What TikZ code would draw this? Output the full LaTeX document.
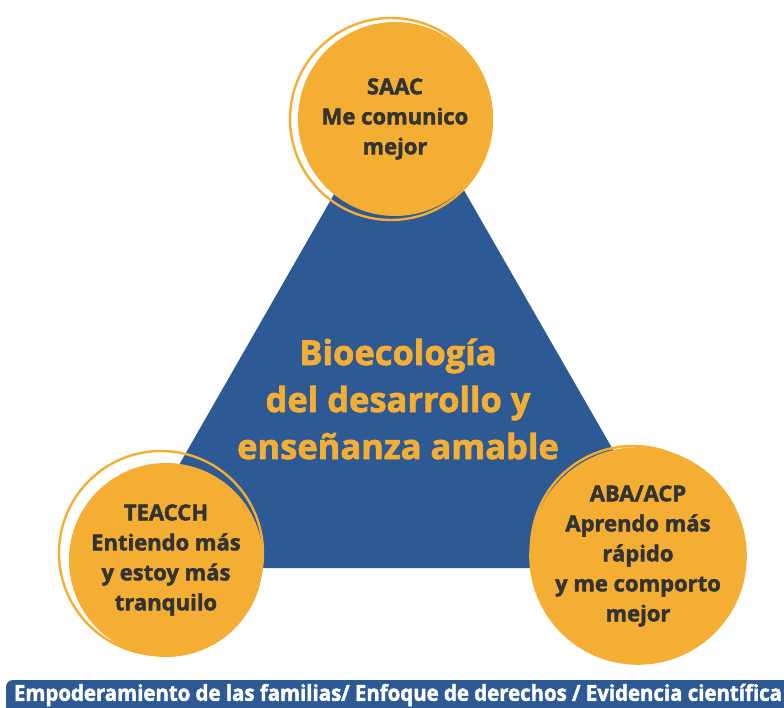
\documentclass[tikz,border=0pt]{standalone}
\usepackage{fontspec}
\setmainfont{Open Sans}[BoldFeatures={FakeBold=2}]
\usepackage{graphicx}
\usepackage{xcolor}
\usetikzlibrary{positioning}

\definecolor{triblue}{HTML}{2D5995}
\definecolor{naranja}{HTML}{F4AE33}
\definecolor{gristxt}{HTML}{333333}

\tikzset{
    metodo/.style={circle, fill=naranja, minimum size=194pt, inner sep=0pt,
        text=gristxt, align=center, font=\fontsize{22}{30}\selectfont\bfseries},
    aro/.style={circle, draw=naranja, line width=2.4pt, minimum size=#1, inner sep=0pt},
    centro/.style={text=naranja, align=center, font=\fontsize{34.5}{47}\selectfont\bfseries}
}

\begin{document}
\begin{tikzpicture}[x=1pt,y=-1pt]
        \useasboundingbox (0,0) rectangle (784,708);
        \clip (0,0) rectangle (784,708);

        % triangulo central
        \coordinate (vtop) at (400,79);
        \coordinate (vder) at (681,568);
        \coordinate (vizq) at (120,568);
        \fill [triblue] (vtop) -- (vder) -- (vizq) -- cycle;
        \node [centro] (bio) at (398,399) {Bioecología\\del desarrollo y\\enseñanza amable};

        % circulos
        \node [metodo] (saac) at (395,119) {SAAC\\Me comunico\\mejor};
        \node [metodo] (teacch) at (166,560) {TEACCH\\Entiendo más\\y estoy más\\tranquilo};
        \node [metodo, minimum size=192pt] (aba) at (638,556) {ABA/ACP\\Aprendo más\\rápido\\y me comporto\\mejor};

        \node [aro=202pt] (aro1) at (391,119) {};
        \node [aro=204pt] (aro2) at (161,553) {};
        \node [aro=204pt] (aro3) at (633,548) {};

        % barra inferior
        \fill [triblue, rounded corners=7pt] (6,680) rectangle (800,720);
        \node [text=white, font=\fontsize{22}{24}\selectfont\bfseries] (pie) at (398,695)
            {\resizebox{768pt}{\height}{Empoderamiento de las familias/ Enfoque de derechos / Evidencia científica}};
\end{tikzpicture}
\end{document}
